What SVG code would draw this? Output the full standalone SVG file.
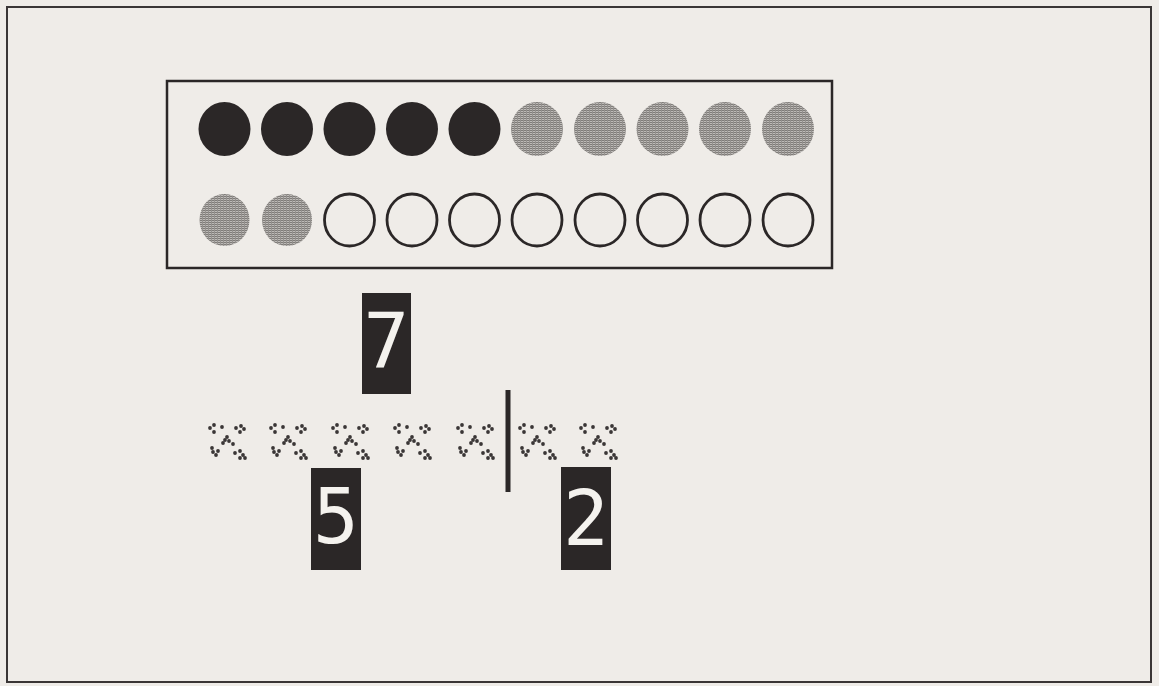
<svg xmlns="http://www.w3.org/2000/svg" xmlns:xlink="http://www.w3.org/1999/xlink" width="1159" height="686" viewBox="0 0 1159 686">
<style>
.frame{fill:none;stroke:#3a3636;stroke-width:2}
.box{fill:none;stroke:#2b2727;stroke-width:2.5}
.blk{fill:#2b2727}
.gry{fill:url(#halftone)}
.opn{fill:none;stroke:#2b2727;stroke-width:2.8}
.card{fill:#2b2727}
.dig{fill:#f4f2ee;font-family:"DejaVu Sans Mono","Liberation Mono",monospace;font-size:76px;text-anchor:middle}
.dot{fill:#3a3636}
</style>
<defs>
<pattern id="halftone" width="3" height="2" patternUnits="userSpaceOnUse">
<rect width="3" height="2" fill="#bdbab7"/>
<rect width="3" height="1" fill="#7f7c79"/>
<rect x="1" width="1" height="2" fill="#94918e"/>
</pattern>
<symbol id="cross" overflow="visible">
<g class="dot">
<circle cx="-13" cy="-15" r="1.9"/><circle cx="-17" cy="-12" r="1.9"/><circle cx="-13" cy="-8" r="1.9"/><circle cx="-5" cy="-13" r="1.9"/>
<circle cx="9" cy="-12" r="1.9"/><circle cx="14" cy="-14" r="1.9"/><circle cx="17" cy="-11" r="1.9"/><circle cx="13" cy="-8" r="1.9"/>
<circle cx="0" cy="-3" r="1.9"/><circle cx="-2" cy="0" r="1.9"/><circle cx="-4" cy="3" r="1.9"/><circle cx="2" cy="1" r="1.9"/><circle cx="6" cy="4" r="1.9"/>
<circle cx="-15" cy="8" r="1.9"/><circle cx="-14" cy="12" r="1.9"/><circle cx="-11" cy="15" r="1.9"/><circle cx="-9" cy="11" r="1.9"/>
<circle cx="8" cy="13" r="1.9"/><circle cx="13" cy="11" r="1.9"/><circle cx="16" cy="15" r="1.9"/><circle cx="13" cy="18" r="1.9"/><circle cx="18" cy="18" r="1.9"/>
</g>
</symbol>
</defs>
<rect width="1159" height="686" fill="#efece8"/>
<rect class="frame" x="7" y="7" width="1144" height="675"/>
<g id="bead-frame">
<rect class="box" x="167" y="81" width="665" height="187"/>
<g id="row1">
<ellipse class="blk" cx="224.5" cy="129" rx="26" ry="27"/>
<ellipse class="blk" cx="287" cy="129" rx="26" ry="27"/>
<ellipse class="blk" cx="349.5" cy="129" rx="26" ry="27"/>
<ellipse class="blk" cx="412" cy="129" rx="26" ry="27"/>
<ellipse class="blk" cx="474.5" cy="129" rx="26" ry="27"/>
<ellipse class="gry" cx="537" cy="129" rx="26" ry="27"/>
<ellipse class="gry" cx="600" cy="129" rx="26" ry="27"/>
<ellipse class="gry" cx="662.5" cy="129" rx="26" ry="27"/>
<ellipse class="gry" cx="725" cy="129" rx="26" ry="27"/>
<ellipse class="gry" cx="788" cy="129" rx="26" ry="27"/>
</g>
<g id="row2">
<ellipse class="gry" cx="224.5" cy="220" rx="25" ry="26"/>
<ellipse class="gry" cx="287" cy="220" rx="25" ry="26"/>
<ellipse class="opn" cx="349.5" cy="220" rx="25" ry="26"/>
<ellipse class="opn" cx="412" cy="220" rx="25" ry="26"/>
<ellipse class="opn" cx="474.5" cy="220" rx="25" ry="26"/>
<ellipse class="opn" cx="537" cy="220" rx="25" ry="26"/>
<ellipse class="opn" cx="600" cy="220" rx="25" ry="26"/>
<ellipse class="opn" cx="662.5" cy="220" rx="25" ry="26"/>
<ellipse class="opn" cx="725" cy="220" rx="25" ry="26"/>
<ellipse class="opn" cx="788" cy="220" rx="25" ry="26"/>
</g>
</g>
<g id="card7">
<rect class="card" x="362" y="293" width="49" height="101"/>
<text class="dig" x="386.5" y="368">7</text>
</g>
<g id="crosses">
<use xlink:href="#cross" x="227" y="440"/>
<use xlink:href="#cross" x="288" y="440"/>
<use xlink:href="#cross" x="350" y="440"/>
<use xlink:href="#cross" x="412" y="440"/>
<use xlink:href="#cross" x="475" y="440"/>
<use xlink:href="#cross" x="537" y="440"/>
<use xlink:href="#cross" x="598" y="440"/>
</g>
<g id="divider">
<rect class="blk" x="505.5" y="390" width="5" height="102"/>
</g>
<g id="card5">
<rect class="card" x="311" y="468" width="50" height="102"/>
<text class="dig" x="336" y="543">5</text>
</g>
<g id="card2">
<rect class="card" x="561" y="467" width="50" height="103"/>
<text class="dig" x="586" y="545">2</text>
</g>
</svg>
